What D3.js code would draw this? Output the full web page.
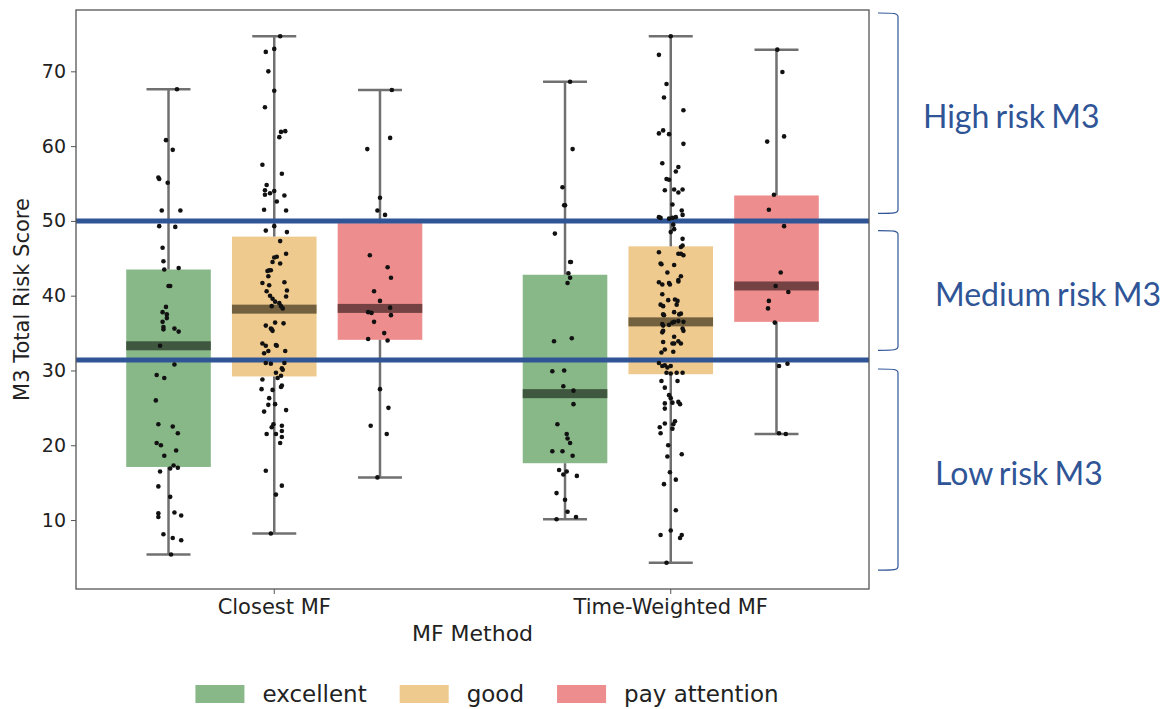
<!DOCTYPE html>
<html>
<head>
<meta charset="utf-8">
<script src="https://cdn.jsdelivr.net/npm/d3@7"></script>
<style>
  body { margin: 0; background: #fff; }
  svg { display: block; }
</style>
</head>
<body>
<div id="chart"></div>
<script>
// categories
const methods = ["Closest MF", "Time-Weighted MF"];
const ratings = ["excellent", "good", "pay attention"];
const yTicks = [10, 20, 30, 40, 50, 60, 70];

// box stats, [method][rating]
const whiskerLow  = [[5.4, 8.2, 15.7], [10.1, 4.3, 21.5]];
const q1Values    = [[17.1, 29.2, 34.1], [17.6, 29.5, 36.5]];
const medians     = [[33.3, 38.2, 38.3], [26.9, 36.5, 41.3]];
const q3Values    = [[43.5, 47.9, 49.7], [42.8, 46.6, 53.4]];
const whiskerHigh = [[67.6, 74.7, 67.5], [68.6, 74.7, 72.9]];

// risk cut-offs (blue lines) and the bracket ranges on the right
const thresholds = [50, 31.4];
const riskLabels = ["High risk M3", "Medium risk M3", "Low risk M3"];
const riskRanges = [[77.8, 51.0], [48.7, 32.7], [30.2, 3.3]];

// raw points: [score, jitter as fraction of box width]
const closestExcellent = [[67.6,0.10],[60.8,-0.03],[59.5,0.05],[55.8,-0.12],[55.6,-0.11],[55.1,-0.01],[51.4,-0.08],[51.4,0.14],[49.3,-0.11],[49.2,0.08],[46.4,-0.07],[44.6,-0.06],[43.5,-0.05],[43.7,0.12],[41.3,0.00],[41.3,0.02],[38.5,-0.03],[37.8,-0.07],[37.5,-0.02],[37.0,-0.02],[36.5,-0.07],[35.8,-0.06],[35.5,-0.06],[35.6,0.07],[35.2,0.12],[33.3,-0.10],[30.8,0.07],[29.4,-0.14],[29.0,-0.05],[26.0,-0.15],[22.8,-0.12],[22.5,0.05],[21.6,0.11],[20.3,-0.14],[20.0,-0.09],[19.3,0.09],[18.6,-0.05],[17.3,0.06],[16.9,0.02],[17.0,0.11],[16.5,-0.10],[14.5,-0.12],[13.1,0.02],[10.9,-0.12],[10.4,-0.12],[11.0,0.07],[10.6,0.15],[8.1,-0.06],[7.6,0.05],[7.3,0.15],[5.4,0.03]];
const closestGood = [[74.7,0.07],[72.6,-0.10],[73.0,0.00],[70.0,-0.07],[67.4,0.00],[65.2,-0.11],[61.9,0.08],[62.0,0.13],[61.2,0.06],[57.5,-0.14],[56.3,0.09],[54.8,-0.09],[54.1,-0.11],[53.5,-0.11],[53.7,-0.05],[54.0,0.00],[53.4,0.12],[52.6,0.03],[51.5,-0.12],[51.4,0.14],[49.3,0.00],[48.7,-0.10],[48.5,0.15],[47.3,0.07],[45.6,0.14],[45.2,0.03],[45.1,0.00],[44.3,0.07],[44.5,-0.02],[43.4,-0.04],[43.4,-0.06],[43.3,-0.08],[42.6,-0.07],[41.7,-0.14],[41.4,-0.06],[41.8,0.12],[40.6,-0.09],[40.7,0.15],[40.0,-0.05],[39.9,0.14],[39.6,-0.02],[39.2,0.01],[39.0,0.06],[38.6,0.08],[38.3,0.10],[38.6,-0.03],[36.4,0.01],[36.3,0.11],[36.0,-0.10],[35.6,-0.04],[35.5,-0.03],[35.3,-0.02],[33.6,-0.14],[33.3,-0.10],[33.4,0.02],[33.3,0.03],[32.6,-0.07],[32.3,-0.12],[32.6,0.13],[31.0,-0.10],[30.9,-0.04],[31.0,0.12],[30.3,0.09],[30.1,0.10],[29.7,0.02],[29.3,0.08],[28.8,-0.14],[29.0,0.04],[28.0,0.09],[27.8,0.08],[27.5,-0.15],[27.4,-0.02],[26.3,-0.06],[25.4,-0.07],[25.5,0.01],[24.5,-0.12],[24.7,0.14],[22.8,-0.01],[22.4,-0.03],[22.6,0.09],[21.9,0.09],[21.1,0.09],[20.3,0.07],[21.5,-0.09],[21.5,0.02],[16.6,-0.10],[14.6,0.09],[13.4,0.02],[8.2,-0.04]];
const closestPay = [[67.5,0.14],[61.1,0.12],[59.6,-0.15],[53.1,0.00],[51.4,-0.03],[50.8,0.06],[45.4,-0.12],[43.8,0.09],[42.4,0.13],[40.6,-0.07],[39.3,0.00],[38.4,0.12],[37.8,-0.14],[37.7,-0.10],[37.4,0.13],[36.5,-0.07],[35.0,0.05],[34.2,-0.14],[34.0,0.09],[27.5,0.00],[25.0,0.10],[22.6,-0.11],[21.5,0.08],[15.7,-0.03]];
const twExcellent = [[68.6,0.06],[59.6,0.09],[54.5,-0.03],[52.1,-0.01],[52.1,0.00],[48.3,-0.12],[44.5,0.06],[44.5,0.07],[43.0,0.04],[42.4,0.06],[41.7,0.03],[33.9,-0.13],[34.3,0.08],[29.9,-0.15],[30.0,-0.01],[27.9,-0.02],[27.3,0.10],[25.5,0.10],[22.8,-0.09],[21.5,0.02],[20.9,0.03],[20.3,0.06],[19.2,-0.15],[19.2,-0.03],[18.6,0.09],[16.7,-0.07],[16.1,-0.02],[16.5,0.02],[15.9,0.14],[13.6,-0.10],[12.7,0.00],[11.1,0.03],[10.4,0.13],[10.1,-0.10]];
const twGood = [[74.7,0.00],[72.2,-0.14],[68.3,-0.05],[66.5,-0.08],[64.8,0.15],[61.7,-0.14],[62.1,-0.09],[61.6,-0.02],[60.3,0.15],[57.7,-0.10],[57.2,0.09],[56.6,0.06],[55.6,-0.05],[55.5,-0.02],[54.1,-0.07],[54.2,0.04],[53.8,0.09],[54.2,0.14],[52.2,0.02],[51.4,0.13],[50.8,0.14],[50.5,0.06],[50.5,-0.14],[50.4,-0.12],[50.3,-0.02],[50.4,0.02],[49.5,0.03],[48.5,0.00],[48.9,0.04],[47.6,0.14],[46.5,0.12],[46.7,0.14],[45.6,0.09],[45.4,0.15],[45.6,0.12],[45.8,-0.14],[44.3,-0.12],[44.2,-0.11],[44.1,0.04],[43.1,-0.04],[42.6,0.12],[42.1,0.09],[41.9,0.09],[41.8,-0.14],[41.5,-0.10],[41.7,-0.02],[41.5,-0.01],[40.2,-0.10],[39.4,-0.03],[39.5,0.05],[39.3,0.08],[38.8,0.07],[38.8,-0.12],[38.6,-0.09],[37.8,0.04],[37.6,0.12],[37.5,0.10],[37.5,-0.09],[37.4,-0.08],[36.6,0.09],[36.4,0.02],[36.5,0.04],[36.5,0.15],[36.2,-0.10],[36.0,-0.09],[36.1,-0.02],[35.6,0.14],[35.3,0.15],[35.3,-0.09],[35.1,-0.10],[34.5,0.04],[33.9,0.09],[33.6,0.12],[33.6,0.04],[33.6,0.02],[33.8,-0.09],[32.8,-0.07],[32.4,-0.11],[32.5,0.03],[31.0,-0.14],[30.6,-0.10],[30.7,-0.07],[30.4,-0.04],[30.6,0.00],[29.7,-0.05],[29.6,0.00],[29.7,0.07],[29.7,0.14],[28.6,-0.11],[28.6,0.08],[27.7,-0.07],[26.7,-0.02],[26.3,0.00],[25.6,-0.07],[25.7,0.02],[25.8,0.09],[25.5,0.11],[24.9,-0.07],[22.9,-0.07],[23.2,0.05],[22.8,0.03],[22.2,0.02],[22.4,-0.13],[21.6,-0.12],[20.0,-0.03],[18.5,-0.04],[18.8,0.13],[16.4,-0.01],[15.4,0.06],[14.8,-0.08],[11.3,0.06],[8.0,-0.12],[8.6,0.00],[8.0,0.13],[7.6,0.11],[4.3,-0.05]];
const twPay = [[72.9,0.01],[69.9,0.07],[61.3,0.09],[60.6,-0.11],[53.5,-0.03],[51.5,-0.09],[49.3,0.09],[43.1,0.05],[41.3,-0.01],[40.5,0.14],[39.3,-0.09],[38.3,-0.10],[36.4,-0.02],[30.6,0.03],[30.9,0.13],[21.6,0.03],[21.5,0.11]];

const pointSets = [[closestExcellent, closestGood, closestPay], [twExcellent, twGood, twPay]];

const width = 1166, height = 709;
const margin = { top: 10, right: 297, bottom: 120, left: 76 };
const plotW = width - margin.left - margin.right;
const plotH = height - margin.top - margin.bottom;

const boxColor = d3.scaleOrdinal().domain(ratings).range(["#88b788", "#efca8e", "#ee8d8d"]);
const medColor = d3.scaleOrdinal().domain(ratings).range(["#3f563f", "#73603f", "#744242"]);
const blue = "#2f5597";
const mplFont = "'DejaVu Sans', sans-serif";

const svg = d3.select("#chart").append("svg")
    .attr("width", width)
    .attr("height", height)
    .style("font-family", mplFont);

const g = svg.append("g")
    .attr("transform", "translate(" + margin.left + "," + margin.top + ")");

const x0 = d3.scaleBand().domain(methods).range([0, plotW]);
const x1 = d3.scaleBand().domain(ratings)
    .range([x0.bandwidth() * 0.1, x0.bandwidth() * 0.9]);
const boxW = x1.bandwidth() * 0.8;
const y = d3.scaleLinear().domain([0.78, 78.2]).range([plotH, 0]);

// flatten groups
let groups = [];
methods.forEach((m, i) => {
    ratings.forEach((r, j) => {
        groups.push({
            method: m, rating: r,
            cx: x0(m) + x1(r) + x1.bandwidth() / 2,
            lo: whiskerLow[i][j], q1: q1Values[i][j], med: medians[i][j],
            q3: q3Values[i][j], hi: whiskerHigh[i][j],
            pts: pointSets[i][j]
        });
    });
});

// boxes
g.selectAll(".box").data(groups).enter().append("rect")
    .attr("class", "box")
    .attr("x", d => d.cx - boxW / 2)
    .attr("width", boxW)
    .attr("y", d => y(d.q3))
    .attr("height", d => y(d.q1) - y(d.q3))
    .attr("fill", d => boxColor(d.rating));

// median band
g.selectAll(".med").data(groups).enter().append("rect")
    .attr("class", "med")
    .attr("x", d => d.cx - boxW / 2)
    .attr("width", boxW)
    .attr("y", d => y(d.med) - 4.5)
    .attr("height", 9)
    .attr("fill", d => medColor(d.rating));

// whiskers + caps
const wk = g.selectAll(".whisker").data(groups).enter().append("g")
    .attr("class", "whisker")
    .attr("stroke", "#707070")
    .attr("stroke-width", 2.5);
wk.append("line")
    .attr("x1", d => d.cx).attr("x2", d => d.cx)
    .attr("y1", d => y(d.hi)).attr("y2", d => y(d.q3));
wk.append("line")
    .attr("x1", d => d.cx).attr("x2", d => d.cx)
    .attr("y1", d => y(d.q1)).attr("y2", d => y(d.lo));
wk.append("line")
    .attr("x1", d => d.cx - boxW * 0.26).attr("x2", d => d.cx + boxW * 0.26)
    .attr("y1", d => y(d.hi)).attr("y2", d => y(d.hi));
wk.append("line")
    .attr("x1", d => d.cx - boxW * 0.26).attr("x2", d => d.cx + boxW * 0.26)
    .attr("y1", d => y(d.lo)).attr("y2", d => y(d.lo));

// threshold lines
g.selectAll(".thr").data(thresholds).enter().append("line")
    .attr("class", "thr")
    .attr("x1", 0).attr("x2", plotW)
    .attr("y1", d => y(d)).attr("y2", d => y(d))
    .attr("stroke", blue)
    .attr("stroke-width", 5);

// points
groups.forEach(gr => {
    g.append("g").selectAll("circle").data(gr.pts).enter().append("circle")
        .attr("cx", d => gr.cx + d[1] * boxW)
        .attr("cy", d => y(d[0]))
        .attr("r", 2.3)
        .attr("fill", "#111");
});

// frame
g.append("rect")
    .attr("width", plotW).attr("height", plotH)
    .attr("fill", "none")
    .attr("stroke", "#555")
    .attr("stroke-width", 1.3);

// axes
const yAxis = g.append("g")
    .call(d3.axisLeft(y).tickValues(yTicks).tickSize(5).tickPadding(5));
yAxis.select(".domain").remove();
yAxis.selectAll(".tick line").attr("stroke", "#555");
yAxis.selectAll("text").style("font-size", "19px").style("font-family", mplFont).attr("fill", "#222");

const xAxis = g.append("g")
    .attr("transform", "translate(0," + plotH + ")")
    .call(d3.axisBottom(x0).tickSize(5).tickPadding(5));
xAxis.select(".domain").remove();
xAxis.selectAll(".tick line").attr("stroke", "#555");
xAxis.selectAll("text").style("font-size", "21px").style("font-family", mplFont).attr("fill", "#222");

g.append("text")
    .attr("x", plotW / 2).attr("y", plotH + 52)
    .attr("text-anchor", "middle")
    .style("font-size", "22px").attr("fill", "#222")
    .text("MF Method");

svg.append("text")
    .attr("transform", "translate(29," + (margin.top + plotH / 2) + ") rotate(-90)")
    .attr("text-anchor", "middle")
    .style("font-size", "21px").attr("fill", "#222")
    .text("M3 Total Risk Score");

// legend
const leg = svg.append("g");
let lx = 0;
ratings.forEach(r => {
    leg.append("rect").attr("x", lx).attr("y", -9).attr("width", 49).attr("height", 18)
        .attr("fill", boxColor(r));
    const t = leg.append("text").attr("x", lx + 67).attr("y", 8)
        .style("font-size", "23px").attr("fill", "#222").text(r);
    lx += 67 + t.node().getComputedTextLength() + 33;
});
const legW = lx - 33;
leg.attr("transform", "translate(" + (487 - legW / 2) + ",694)");

// risk brackets on the right
const bx0 = margin.left + plotW + 9, bx1 = bx0 + 20;
riskRanges.forEach(rg => {
    const t = y(rg[0]) + margin.top, b = y(rg[1]) + margin.top;
    svg.append("path")
        .attr("d", "M" + bx0 + "," + t + " C" + (bx1 - 4) + "," + t + " " + bx1 + "," + t + " " + bx1 + "," + (t + 4)
            + " L" + bx1 + "," + (b - 4) + " C" + bx1 + "," + b + " " + (bx1 - 4) + "," + b + " " + bx0 + "," + b)
        .attr("fill", "none")
        .attr("stroke", blue)
        .attr("stroke-width", 1.2);
});
const labelX = [923, 935, 935];
riskLabels.forEach((lab, i) => {
    const mid = (y(riskRanges[i][0]) + y(riskRanges[i][1])) / 2 + margin.top;
    svg.append("text")
        .attr("x", labelX[i]).attr("y", mid + 4)
        .attr("dy", "0.35em")
        .style("font-family", "Lato, 'Open Sans', sans-serif")
        .style("font-size", "32px")
        .style("word-spacing", "-2px")
        .attr("fill", blue)
        .text(lab);
});
</script>
</body>
</html>
